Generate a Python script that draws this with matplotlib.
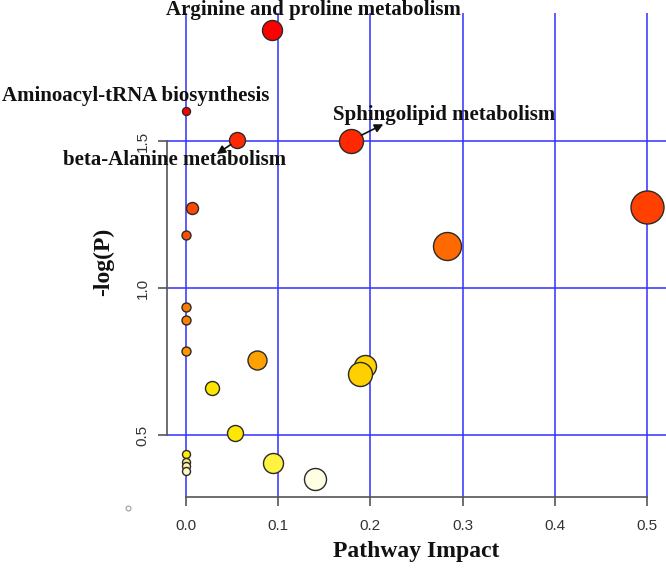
import matplotlib
matplotlib.use("Agg")
import matplotlib.pyplot as plt
from matplotlib.lines import Line2D

# ---- data ----
impact = [0.0, 0.0, 0.0, 0.0, 0.0, 0.0, 0.0, 0.0, 0.0, 0.0068, 0.0557, 0.093,
          0.1786, 0.5, 0.2828, 0.0767, 0.0285, 0.1945, 0.1884, 0.0528, 0.0947, 0.1396]
neglogp = [1.603, 1.181, 0.935, 0.892, 0.787, 0.435, 0.410, 0.395, 0.378, 1.272, 1.504, 1.879,
           1.502, 1.2755, 1.145, 0.756, 0.659, 0.736, 0.708, 0.507, 0.405, 0.352]
node_diam = [8, 9, 9, 9, 9, 8, 8, 8, 8, 12, 16, 20,
             24, 33, 28, 19, 14, 22, 24, 16, 20, 22]
node_color = ["#FF0000", "#FF5000", "#FF7A00", "#FF8000", "#FF9600", "#FFF000", "#FFF070",
              "#FFF3A8", "#FFF6C8", "#FF4800", "#FF2800", "#FF0000",
              "#FF2800", "#FF4000", "#FF6A00", "#FFA200", "#FFE400", "#FFD200", "#FFD000",
              "#FFE800", "#FFF240", "#FFFDE2"]

labels = ["Arginine and proline metabolism", "Aminoacyl-tRNA biosynthesis",
          "beta-Alanine metabolism", "Sphingolipid metabolism"]
label_idx = [11, 0, 10, 12]
label_offset = [(30, 14.0), (-36.5, 10.8), (-45, -14.2), (67, 18.5)]
arrow_offset = [None, None, (-14.8, -10.1), (23.5, 11.8)]

xticks = [0.0, 0.1, 0.2, 0.3, 0.4, 0.5]
yticks = [0.5, 1.0, 1.5]

# ---- figure ----
fig = plt.figure(figsize=(6.66, 5.69), dpi=100)
ax = fig.add_axes([167/666, 1 - 497/569, (666 - 167)/666, (497 - 13)/569])
ax.set_xlim(-0.0206, 0.5206)
ax.set_ylim(0.290, 1.936)

for xv in xticks:
    ax.axvline(xv, color="#3030FF", lw=1.1, zorder=1)
for yv in yticks:
    ax.axhline(yv, color="#3030FF", lw=1.1, zorder=1)

pts_scale = 0.72  # px -> pt at 100 dpi
sizes = [(d * pts_scale) ** 2 for d in node_diam]
for xv, yv, s, c in zip(impact, neglogp, sizes, node_color):
    ax.scatter([xv], [yv], s=s, c=c, edgecolors="#2a2a2a", linewidths=1.0, zorder=3)

serif = ["Liberation Serif", "DejaVu Serif"]
for lab, i, off, aoff in zip(labels, label_idx, label_offset, arrow_offset):
    ax.annotate(lab, xy=(impact[i], neglogp[i]), xytext=off, textcoords="offset points",
                ha="center", va="center", fontsize=15, fontweight="bold",
                family=serif, color="#111111", annotation_clip=False, zorder=5)
    if aoff is not None:
        ax.annotate("", xy=(impact[i], neglogp[i]), xytext=aoff, textcoords="offset points",
                    arrowprops=dict(arrowstyle="<|-,head_length=0.5,head_width=0.25",
                                    color="#111111", lw=1.2, shrinkA=0,
                                    shrinkB=node_diam[i] * pts_scale / 2),
                    zorder=5)

for sp in ["top", "right"]:
    ax.spines[sp].set_visible(False)
ax.spines["left"].set_bounds(0.5, 1.5)
ax.spines["bottom"].set_bounds(0.0, 0.5)
for sp in ["left", "bottom"]:
    ax.spines[sp].set_color("#555555")
    ax.spines[sp].set_linewidth(1.2)

ax.set_xticks(xticks)
ax.set_xticklabels([f"{v:.1f}" for v in xticks])
ax.set_yticks(yticks)
ax.set_yticklabels([f"{v:.1f}" for v in yticks], rotation=90, va="center")
ax.tick_params(axis="both", direction="out", length=6.5, width=1.2, color="#555555",
               labelcolor="#333333", labelsize=11)
ax.tick_params(axis="x", pad=9)
ax.tick_params(axis="y", pad=6)
for t in ax.get_xticklabels() + ax.get_yticklabels():
    t.set_family(["Liberation Sans", "DejaVu Sans"])

ax.set_xlabel("Pathway Impact", fontsize=17, fontweight="bold", family=serif,
              color="#111111", va="center")
ax.xaxis.set_label_coords(0.5, -0.1136)
ax.set_ylabel("-log(P)", fontsize=17, fontweight="bold", family=serif,
              color="#111111", va="center")
ax.yaxis.set_label_coords(-0.128, 0.486)

fig.add_artist(Line2D([128/666], [1 - 508/569], marker="o", markersize=3.5,
                      markerfacecolor="none", markeredgecolor="#9a9aaa",
                      markeredgewidth=0.8, linestyle="none"))

fig.savefig("out.png", dpi=100)
